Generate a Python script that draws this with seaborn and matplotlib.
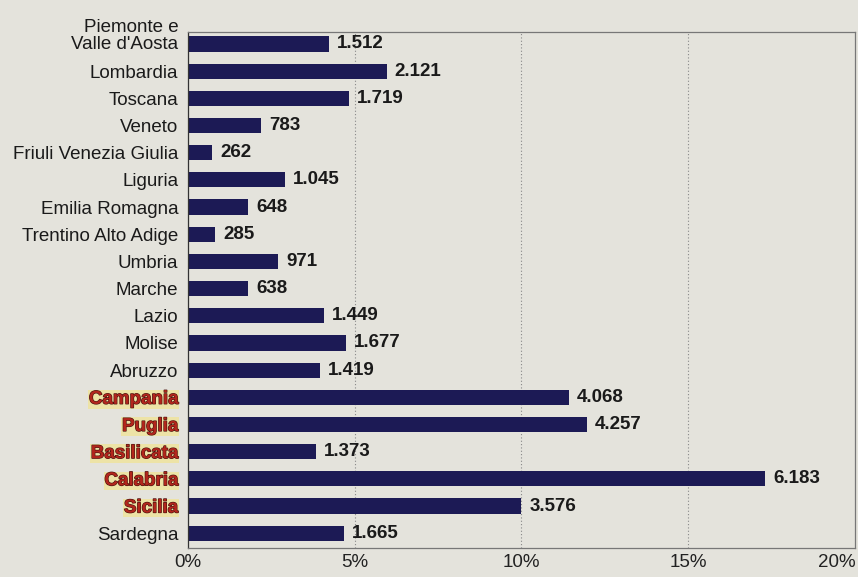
import matplotlib
matplotlib.use("Agg")
import matplotlib.pyplot as plt
import matplotlib.patheffects as pe
import matplotlib.transforms as mtrans
from matplotlib.ticker import FuncFormatter, FixedLocator
import seaborn as sns
import pandas as pd

# regioni, quota percentuale (lunghezza barra) e numero assoluto (etichetta)
regions = ["Piemonte e\nValle d'Aosta", "Lombardia", "Toscana", "Veneto",
           "Friuli Venezia Giulia", "Liguria", "Emilia Romagna",
           "Trentino Alto Adige", "Umbria", "Marche", "Lazio", "Molise",
           "Abruzzo", "Campania", "Puglia", "Basilicata", "Calabria",
           "Sicilia", "Sardegna"]
pct = [4.22, 5.96, 4.82, 2.20, 0.73, 2.92, 1.81, 0.81, 2.71, 1.81,
       4.07, 4.73, 3.95, 11.42, 11.96, 3.83, 17.32, 10.00, 4.67]
counts = ["1.512", "2.121", "1.719", "783", "262", "1.045", "648", "285",
          "971", "638", "1.449", "1.677", "1.419", "4.068", "4.257",
          "1.373", "6.183", "3.576", "1.665"]
highlight = ["Campania", "Puglia", "Basilicata", "Calabria", "Sicilia"]
x_ticks = [0, 5, 10, 15, 20]

df = pd.DataFrame({"region": regions, "pct": pct, "count": counts})

sns.set_theme(style="white")
plt.rcParams["font.family"] = ["Liberation Sans", "DejaVu Sans"]

paper = "#e4e3dc"
navy = "#1c1a55"

fig = plt.figure(figsize=(8.58, 5.77), dpi=100, facecolor=paper)
ax = fig.add_axes([0.219, 0.050, 0.777, 0.895])
ax.set_facecolor(paper)

sns.barplot(data=df, x="pct", y="region", orient="h", color=navy,
            width=0.56, saturation=1, linewidth=0, ax=ax)

ax.set_xlim(0, 20)
ax.set_ylim(18.55, -0.45)
ax.set_xlabel("")
ax.set_ylabel("")
ax.xaxis.set_major_locator(FixedLocator(x_ticks))
ax.xaxis.set_major_formatter(FuncFormatter(lambda v, p: f"{v:.0f}%"))
ax.tick_params(axis="x", labelsize=13.5, length=0, pad=4, colors="#222222")
ax.tick_params(axis="y", labelsize=13.5, length=0, pad=7, colors="#1a1a1a")
ax.yaxis.set_minor_locator(FixedLocator([i + 0.5 for i in range(-1, 19)]))
ax.tick_params(axis="y", which="minor", length=4, width=0.8, color="#555555")

for v in x_ticks[1:-1]:
    ax.axvline(v, color="#888888", lw=0.8, ls=(0, (1, 2)), zorder=0)

for s in ax.spines.values():
    s.set_color("#777777")
    s.set_linewidth(0.9)
ax.spines["left"].set_color("#333333")

for i, row in df.iterrows():
    ax.text(row["pct"] + 0.24, i, row["count"], va="center", ha="left",
            fontsize=13.5, color="#1a1a1a", fontweight="bold")

for lab in ax.get_yticklabels():
    name = lab.get_text()
    if name in highlight:
        lab.set_color("#b3261c")
        lab.set_fontweight("bold")
        lab.set_path_effects([pe.withStroke(linewidth=0.9, foreground="#4a1410")])
        lab.set_bbox(dict(facecolor="#ede3a6", edgecolor="none", pad=0.6))
    if "\n" in name:
        lab.set_va("bottom")
        lab.set_linespacing(1.0)
        lab.set_transform(lab.get_transform() +
                          mtrans.ScaledTranslation(0, -9 / 100, fig.dpi_scale_trans))

xl = ax.get_xticklabels()
xl[-1].set_ha("right")
xl[-1].set_transform(xl[-1].get_transform() +
                     mtrans.ScaledTranslation(1 / 100, 0, fig.dpi_scale_trans))

fig.savefig("out.png", dpi=100, facecolor=paper)
